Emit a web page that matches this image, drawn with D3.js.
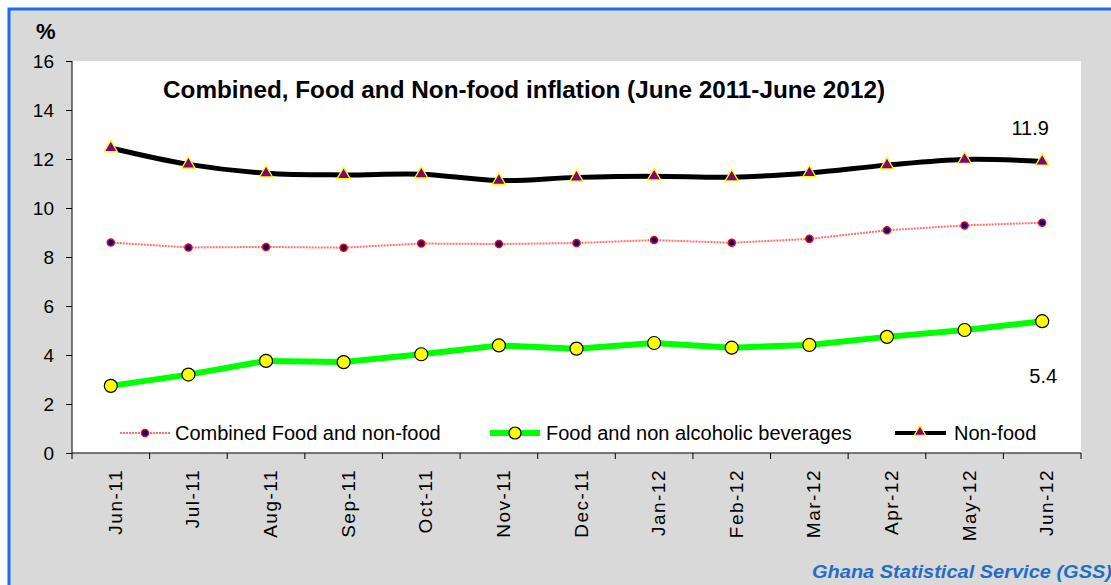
<!DOCTYPE html>
<html lang="en">
<head>
  <meta charset="UTF-8">
  <title>inflation</title>
  <style>
    body { margin: 0; background: #fff; overflow: hidden; }
    svg { display: block; font-family: "Liberation Sans", Arial, sans-serif; }
  </style>
</head>
<body>
  <div class="chart"></div>
  <script src="https://cdnjs.cloudflare.com/ajax/libs/d3/7.8.5/d3.min.js"></script>
  <script>
    const months = ["Jun-11","Jul-11","Aug-11","Sep-11","Oct-11","Nov-11","Dec-11",
                    "Jan-12","Feb-12","Mar-12","Apr-12","May-12","Jun-12"];
    const combined = [8.59, 8.39, 8.41, 8.38, 8.55, 8.53, 8.57, 8.69, 8.58, 8.74, 9.09, 9.29, 9.40];
    const food = [2.74, 3.2, 3.76, 3.71, 4.03, 4.39, 4.26, 4.49, 4.30, 4.41, 4.74, 5.02, 5.38];
    const nonFood = [12.45, 11.78, 11.42, 11.35, 11.38, 11.12, 11.25, 11.3, 11.26, 11.43, 11.75, 11.98, 11.9];
    const yTicks = [0, 2, 4, 6, 8, 10, 12, 14, 16];

    const W = 1111, H = 585;
    const plotL = 72, plotR = 1081, plotT = 61, plotB = 453;

    const svg = d3.select('.chart').append('svg')
      .attr('width', W).attr('height', H);

    // frame
    svg.append('rect').attr('x', 9).attr('y', 9).attr('width', W + 10).attr('height', H + 10)
      .attr('fill', '#d9d9d9').attr('stroke', '#1b6cf2').attr('stroke-width', 3);

    svg.append('rect').attr('x', plotL).attr('y', plotT)
      .attr('width', plotR - plotL).attr('height', plotB - plotT).attr('fill', '#fff');

    const x = d3.scaleBand().domain(months).range([plotL, plotR]);
    const cx = m => x(m) + x.bandwidth() / 2;
    const y = d3.scaleLinear().domain([0, 16]).range([plotB, plotT]);

    // y axis
    const yAxis = svg.append('g').attr('transform', `translate(${plotL},0)`)
      .call(d3.axisLeft(y).tickValues(yTicks).tickSize(6).tickPadding(12));
    yAxis.select('.domain').attr('stroke', '#000').attr('d', `M0,${plotT}V${plotB}`);
    yAxis.selectAll('.tick line').attr('stroke', '#000');
    yAxis.selectAll('.tick text').attr('font-size', 19).attr('fill', '#000')
      .attr('font-family', '"Liberation Sans", Arial, sans-serif');

    // x axis
    const xAxis = svg.append('g').attr('transform', `translate(0,${plotB})`)
      .call(d3.axisBottom(x).tickSize(0).tickPadding(0));
    xAxis.select('.domain').attr('stroke', '#000').attr('d', `M${plotL},0H${plotR}`);
    xAxis.selectAll('.tick text')
      .attr('font-size', 19).attr('fill', '#000')
      .attr('font-family', '"Liberation Sans", Arial, sans-serif')
      .attr('letter-spacing', 1.5)
      .attr('text-anchor', 'end')
      .attr('transform', 'translate(11,16) rotate(-90)')
      .attr('dy', 0);
    xAxis.selectAll('.bnd').data(months.concat(['end'])).enter().append('line')
      .attr('x1', (d, i) => i < months.length ? x(d) : plotR)
      .attr('x2', (d, i) => i < months.length ? x(d) : plotR)
      .attr('y1', 0).attr('y2', 6).attr('stroke', '#000');

    // title
    svg.append('text').attr('x', 163).attr('y', 98)
      .attr('font-size', 24).attr('font-weight', 'bold')
      .attr('textLength', 722).attr('lengthAdjust', 'spacingAndGlyphs')
      .text('Combined, Food and Non-food inflation (June 2011-June 2012)');

    svg.append('text').attr('x', 36).attr('y', 39)
      .attr('font-size', 22).attr('font-weight', 'bold').text('%');

    // lines
    const line = arr => d3.line().x((v, i) => cx(months[i])).y(v => y(v))(arr);
    const smooth = arr => d3.line().x((v, i) => cx(months[i])).y(v => y(v))
      .curve(d3.curveCatmullRom.alpha(0.5))(arr);

    svg.append('path').attr('d', line(combined)).attr('fill', 'none')
      .attr('stroke', '#ff7070').attr('stroke-width', 2).attr('stroke-dasharray', '2,1');
    svg.append('path').attr('d', line(food)).attr('fill', 'none')
      .attr('stroke', '#00ff00').attr('stroke-width', 6);
    svg.append('path').attr('d', smooth(nonFood)).attr('fill', 'none')
      .attr('stroke', '#000').attr('stroke-width', 5);

    const tri = d3.symbol().type(d3.symbolTriangle).size(75);

    svg.selectAll('.cm').data(combined).enter().append('circle')
      .attr('cx', (v, i) => cx(months[i])).attr('cy', v => y(v)).attr('r', 3.5)
      .attr('fill', '#000080').attr('stroke', '#ff0000').attr('stroke-width', 1.5);
    svg.selectAll('.fd').data(food).enter().append('circle')
      .attr('cx', (v, i) => cx(months[i])).attr('cy', v => y(v)).attr('r', 6.5)
      .attr('fill', '#ffff00').attr('stroke', '#000').attr('stroke-width', 1.2);
    svg.selectAll('.nf').data(nonFood).enter().append('path')
      .attr('d', tri)
      .attr('transform', (v, i) => `translate(${cx(months[i])},${y(v)})`)
      .attr('fill', '#800080').attr('stroke', '#ffff00').attr('stroke-width', 1.3);

    // data labels
    svg.append('text').attr('x', cx(months[12]) - 12).attr('y', 135)
      .attr('font-size', 20).attr('text-anchor', 'middle').text(nonFood[12].toFixed(1));
    svg.append('text').attr('x', cx(months[12]) + 1).attr('y', 383)
      .attr('font-size', 20).attr('text-anchor', 'middle').text(food[12].toFixed(1));

    // legend
    const ly = 433;
    const lg = svg.append('g');
    lg.append('line').attr('x1', 120).attr('x2', 170).attr('y1', ly).attr('y2', ly)
      .attr('stroke', '#ff7070').attr('stroke-width', 2).attr('stroke-dasharray', '2,1');
    lg.append('circle').attr('cx', 145).attr('cy', ly).attr('r', 3.5)
      .attr('fill', '#000080').attr('stroke', '#ff0000').attr('stroke-width', 1.5);
    lg.append('text').attr('x', 175).attr('y', ly + 7).attr('font-size', 20)
      .text('Combined Food and non-food');

    lg.append('line').attr('x1', 490).attr('x2', 540).attr('y1', ly).attr('y2', ly)
      .attr('stroke', '#00ff00').attr('stroke-width', 6);
    lg.append('circle').attr('cx', 515).attr('cy', ly).attr('r', 6)
      .attr('fill', '#ffff00').attr('stroke', '#000').attr('stroke-width', 1.2);
    lg.append('text').attr('x', 546).attr('y', ly + 7).attr('font-size', 20)
      .text('Food and non alcoholic beverages');

    lg.append('line').attr('x1', 895).attr('x2', 946).attr('y1', ly).attr('y2', ly)
      .attr('stroke', '#000').attr('stroke-width', 4);
    lg.append('path').attr('d', d3.symbol().type(d3.symbolTriangle).size(55))
      .attr('transform', `translate(920,${ly - 1})`)
      .attr('fill', '#800080').attr('stroke', '#ffff00').attr('stroke-width', 1.2);
    lg.append('text').attr('x', 954).attr('y', ly + 7).attr('font-size', 20)
      .text('Non-food');

    // source
    svg.append('text').attr('x', 812).attr('y', 578)
      .attr('font-size', 18).attr('font-weight', 'bold').attr('font-style', 'italic')
      .attr('fill', '#1f6fc5')
      .attr('textLength', 300).attr('lengthAdjust', 'spacingAndGlyphs')
      .text('Ghana Statistical Service (GSS)');
  </script>
</body>
</html>
